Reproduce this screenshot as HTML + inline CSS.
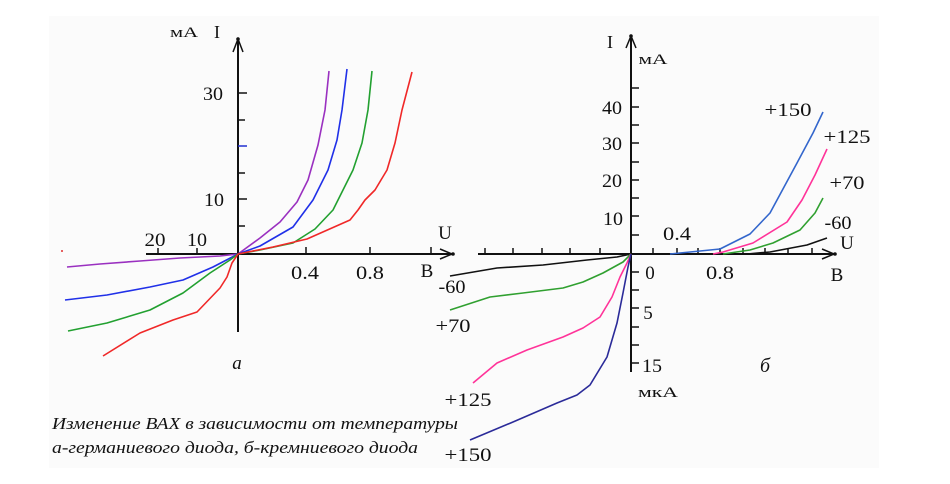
<!DOCTYPE html>
<html><head><meta charset="utf-8"><style>
html,body{margin:0;padding:0;background:#fff;}
svg{display:block;}
text{font-family:"Liberation Serif","DejaVu Serif",serif;fill:#111;}
</style></head><body>
<svg width="950" height="484" viewBox="0 0 950 484" xmlns="http://www.w3.org/2000/svg">
<rect x="0" y="0" width="950" height="484" fill="#fff"/>
<rect x="49" y="16" width="830" height="452" fill="#fbfbfb"/>

<!-- LEFT CHART axes -->
<g stroke="#111" stroke-width="2" fill="none">
<line x1="238" y1="38" x2="238" y2="332"/>
<line x1="146" y1="254" x2="452" y2="254"/>
<polyline points="233,52 238,39 243,52" stroke-width="1.5"/>
<polyline points="440,249 452,254 440,259" stroke-width="1.5"/>
<g stroke-width="1.5">
<line x1="238" y1="93" x2="247" y2="93"/>
<line x1="238" y1="120" x2="245" y2="120"/>
<line x1="238" y1="173" x2="245" y2="173"/>
<line x1="238" y1="199" x2="247" y2="199"/>
<line x1="238" y1="226" x2="245" y2="226"/>
<line x1="158" y1="248" x2="158" y2="254"/>
<line x1="197" y1="248" x2="197" y2="254"/>
<line x1="306" y1="247" x2="306" y2="254"/>
<line x1="370" y1="247" x2="370" y2="254"/>
<line x1="431" y1="247" x2="431" y2="254"/>
</g>
</g>
<line x1="238" y1="146" x2="247" y2="146" stroke="#2030d0" stroke-width="1.5"/>
<circle cx="238" cy="39" r="1.8" fill="#111"/>
<circle cx="453" cy="254" r="1.8" fill="#111"/>
<circle cx="62" cy="251" r="1" fill="#e03030"/>

<!-- LEFT curves -->
<g fill="none" stroke-width="1.6" stroke-linejoin="round">
<polyline stroke="#9a30c0" points="238,254 260,238 280,222 297,202 308,180 318,145 325,110 329,71"/>
<polyline stroke="#9a30c0" points="67,267 100,264 140,261 180,258 220,256 238,254"/>
<polyline stroke="#2030e8" points="238,254 260,246 293,227 313,200 328,170 337,140 342,110 347,69"/>
<polyline stroke="#2030e8" points="65,300 107,295 150,287 183,280 213,267 238,254"/>
<polyline stroke="#22a030" points="238,254 260,250 293,243 315,229 333,210 353,170 362,143 368,110 372,71"/>
<polyline stroke="#22a030" points="68,331 107,323 150,310 183,293 210,273 230,260 238,254"/>
<polyline stroke="#f02828" points="238,254 273,247 307,239 350,220 358,210 365,200 375,190 387,170 395,143 402,110 412,72"/>
<polyline stroke="#f02828" points="103,356 140,333 173,320 197,312 220,288 227,277 232,263 238,254"/>
</g>

<!-- LEFT labels -->
<text x="184" y="37" font-size="15" text-anchor="middle" textLength="28" lengthAdjust="spacingAndGlyphs">мА</text>
<text x="217" y="38" font-size="18" text-anchor="middle">I</text>
<text x="213" y="100" font-size="19" text-anchor="middle" textLength="20" lengthAdjust="spacingAndGlyphs">30</text>
<text x="214" y="206" font-size="19" text-anchor="middle" textLength="20" lengthAdjust="spacingAndGlyphs">10</text>
<text x="155" y="246" font-size="19" text-anchor="middle" textLength="21" lengthAdjust="spacingAndGlyphs">20</text>
<text x="197" y="246" font-size="19" text-anchor="middle" textLength="20" lengthAdjust="spacingAndGlyphs">10</text>
<text x="305" y="279" font-size="19" text-anchor="middle" textLength="28" lengthAdjust="spacingAndGlyphs">0.4</text>
<text x="370" y="279" font-size="19" text-anchor="middle" textLength="28" lengthAdjust="spacingAndGlyphs">0.8</text>
<text x="427" y="277" font-size="19" text-anchor="middle">B</text>
<text x="445" y="239" font-size="19" text-anchor="middle">U</text>
<text x="237" y="369" font-size="19" font-style="italic" text-anchor="middle">a</text>

<!-- RIGHT CHART axes -->
<g stroke="#111" stroke-width="2" fill="none">
<line x1="631" y1="35" x2="631" y2="372"/>
<line x1="478" y1="254" x2="834" y2="254"/>
<polyline points="626,48 631,36 636,48" stroke-width="1.5"/>
<polyline points="822,249 834,254 822,259" stroke-width="1.5"/>
<g stroke-width="1.5">
<line x1="631" y1="88" x2="639" y2="88"/>
<line x1="631" y1="107" x2="639" y2="107"/>
<line x1="631" y1="125" x2="639" y2="125"/>
<line x1="631" y1="143" x2="639" y2="143"/>
<line x1="631" y1="162" x2="639" y2="162"/>
<line x1="631" y1="180" x2="639" y2="180"/>
<line x1="631" y1="198" x2="639" y2="198"/>
<line x1="631" y1="216" x2="639" y2="216"/>
<line x1="631" y1="235" x2="639" y2="235"/>
<line x1="631" y1="272" x2="639" y2="272"/>
<line x1="631" y1="290" x2="639" y2="290"/>
<line x1="631" y1="308" x2="639" y2="308"/>
<line x1="631" y1="327" x2="639" y2="327"/>
<line x1="631" y1="345" x2="639" y2="345"/>
<line x1="631" y1="363" x2="639" y2="363"/>
<line x1="485" y1="248" x2="485" y2="254"/>
<line x1="513" y1="248" x2="513" y2="254"/>
<line x1="542" y1="248" x2="542" y2="254"/>
<line x1="570" y1="248" x2="570" y2="254"/>
<line x1="600" y1="248" x2="600" y2="254"/>
<line x1="653" y1="248" x2="653" y2="254"/>
<line x1="677" y1="248" x2="677" y2="254"/>
<line x1="698" y1="248" x2="698" y2="254"/>
<line x1="720" y1="248" x2="720" y2="254"/>
<line x1="743" y1="248" x2="743" y2="254"/>
<line x1="765" y1="248" x2="765" y2="254"/>
<line x1="788" y1="248" x2="788" y2="254"/>
<line x1="812" y1="248" x2="812" y2="254"/>
</g>
</g>
<circle cx="631" cy="36" r="1.8" fill="#111"/>
<circle cx="835" cy="254" r="1.8" fill="#111"/>

<!-- RIGHT curves -->
<g fill="none" stroke-width="1.6" stroke-linejoin="round">
<polyline stroke="#3366cc" points="670,254 720,249 750,234 770,213 797,163 813,133 823,112"/>
<polyline stroke="#ff3399" points="713,254 723,252 753,243 787,222 802,200 815,175 827,149"/>
<polyline stroke="#30a030" points="723,254 750,250 773,243 800,230 815,213 823,198"/>
<polyline stroke="#111" points="747,254 770,252 807,245 827,238"/>
<polyline stroke="#111" points="450,276 497,268 543,265 587,260 617,257 631,254"/>
<polyline stroke="#30a030" points="450,310 490,297 523,293 563,288 583,282 603,273 623,262 631,254"/>
<polyline stroke="#ff3399" points="473,383 497,363 527,350 563,337 583,328 600,317 612,297 620,277 627,263 631,254"/>
<polyline stroke="#2b2b99" points="470,440 513,422 557,403 577,395 590,385 607,357 617,323 623,293 628,267 631,254"/>
</g>

<!-- RIGHT labels -->
<text x="610" y="48" font-size="18" text-anchor="middle">I</text>
<text x="653" y="64" font-size="15" text-anchor="middle" textLength="29" lengthAdjust="spacingAndGlyphs">мА</text>
<text x="612" y="114" font-size="19" text-anchor="middle" textLength="20" lengthAdjust="spacingAndGlyphs">40</text>
<text x="612" y="150" font-size="19" text-anchor="middle" textLength="20" lengthAdjust="spacingAndGlyphs">30</text>
<text x="612" y="187" font-size="19" text-anchor="middle" textLength="20" lengthAdjust="spacingAndGlyphs">20</text>
<text x="613" y="225" font-size="19" text-anchor="middle" textLength="20" lengthAdjust="spacingAndGlyphs">10</text>
<text x="677" y="240" font-size="19" text-anchor="middle" textLength="28" lengthAdjust="spacingAndGlyphs">0.4</text>
<text x="650" y="279" font-size="19" text-anchor="middle">0</text>
<text x="720" y="279" font-size="19" text-anchor="middle" textLength="28" lengthAdjust="spacingAndGlyphs">0.8</text>
<text x="648" y="319" font-size="19" text-anchor="middle">5</text>
<text x="652" y="372" font-size="19" text-anchor="middle" textLength="20" lengthAdjust="spacingAndGlyphs">15</text>
<text x="658" y="397" font-size="15" text-anchor="middle" textLength="40" lengthAdjust="spacingAndGlyphs">мкА</text>
<text x="837" y="281" font-size="19" text-anchor="middle">B</text>
<text x="847" y="249" font-size="19" text-anchor="middle">U</text>
<text x="765" y="372" font-size="20" font-style="italic" text-anchor="middle">б</text>
<text x="788" y="116" font-size="19" text-anchor="middle" textLength="47" lengthAdjust="spacingAndGlyphs">+150</text>
<text x="847" y="143" font-size="19" text-anchor="middle" textLength="47" lengthAdjust="spacingAndGlyphs">+125</text>
<text x="847" y="189" font-size="19" text-anchor="middle" textLength="35" lengthAdjust="spacingAndGlyphs">+70</text>
<text x="838" y="229" font-size="19" text-anchor="middle" textLength="27" lengthAdjust="spacingAndGlyphs">-60</text>
<text x="452" y="293" font-size="19" text-anchor="middle" textLength="27" lengthAdjust="spacingAndGlyphs">-60</text>
<text x="453" y="332" font-size="19" text-anchor="middle" textLength="35" lengthAdjust="spacingAndGlyphs">+70</text>
<text x="468" y="406" font-size="19" text-anchor="middle" textLength="47" lengthAdjust="spacingAndGlyphs">+125</text>
<text x="468" y="461" font-size="19" text-anchor="middle" textLength="47" lengthAdjust="spacingAndGlyphs">+150</text>

<!-- Caption -->
<text x="52" y="429" font-size="17" font-style="italic" textLength="406" lengthAdjust="spacingAndGlyphs">Изменение ВАХ в зависимости от температуры</text>
<text x="52" y="453" font-size="17" font-style="italic" textLength="366" lengthAdjust="spacingAndGlyphs">а-германиевого диода, б-кремниевого диода</text>
</svg>
</body></html>
